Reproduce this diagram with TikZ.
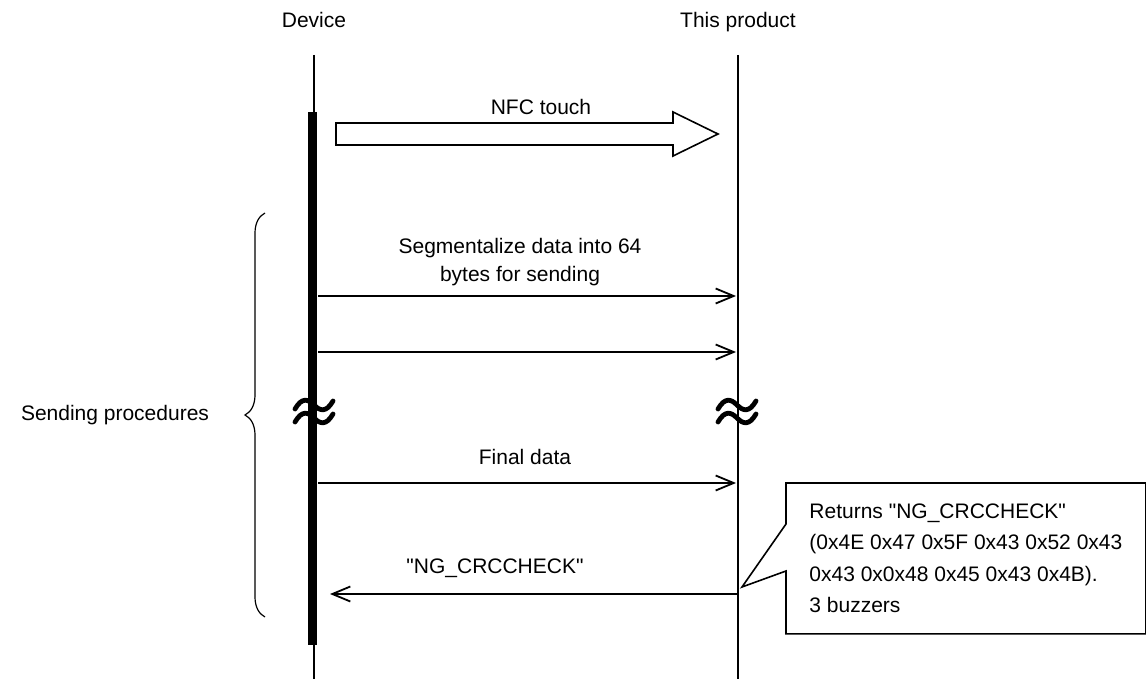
\documentclass[tikz,border=0pt]{standalone}
\usepackage{fontspec}
\setmainfont{Liberation Sans}[Ligatures=TeXOff]
\usetikzlibrary{arrows.meta,positioning,calc,decorations.pathreplacing}

\begin{document}
\begin{tikzpicture}[
  x=0.5pt, y=-0.5pt,
  txt/.style={font=\fontsize{10.5}{14}\selectfont, inner sep=0pt, align=center},
  life/.style={line width=1.3pt},
  actbar/.style={line width=4.5pt},
  msg/.style={-{Straight Barb[length=9pt,width=7.5pt]}, line width=0.9pt},
  brk/.style={line width=2.4pt, line cap=round},
  outl/.style={line width=0.8pt, line join=miter},
  notebox/.style={txt, align=left, font=\fontsize{10.5}{15.75}\selectfont,
                  minimum width=179.5pt, minimum height=75pt}
]
\useasboundingbox (0,0) rectangle (1146,679);

% headers and lifelines
\node[txt, anchor=base] (dev) at (314,28) {Device};
\node[txt, anchor=base] (prod) at (738,28) {This product};
\coordinate (devtop) at (314,55);  \coordinate (devbot) at (314,679);
\coordinate (prodtop) at (738,55); \coordinate (prodbot) at (738,679);
\draw[life] (devtop) -- (devbot);
\draw[life] (prodtop) -- (prodbot);
\coordinate (acttop) at (312.5,112); \coordinate (actbot) at (312.5,645);
\draw[actbar] (acttop) -- (actbot);

% NFC touch
\node[txt] (nfc) at (541,107) {NFC touch};
\draw[outl] (336,123) -- (673,123) -- (673,112) -- (718,134) -- (673,156)
  -- (673,145) -- (336,145) -- cycle;

% messages
\coordinate (d1) at (318,296); \coordinate (p1) at (736,296);
\coordinate (d2) at (318,352); \coordinate (p2) at (736,352);
\coordinate (d3) at (318,483); \coordinate (p3) at (736,483);
\coordinate (d4) at (330,594); \coordinate (p4) at (738,594);
\node[txt] (seg) at (520,262) {Segmentalize data into 64\\bytes for sending};
\node[txt] (fin) at (525,457) {Final data};
\node[txt] (ngmsg) at (495,568) {"NG\_CRCCHECK"};
\draw[msg] (d1) -- (p1);
\draw[msg] (d2) -- (p2);
\draw[msg] (d3) -- (p3);
\draw[msg] (p4) -- (d4);

% break marks
\foreach \x in {314,737}
  \foreach \y in {405,418}
    \draw[brk] ({\x-19},{\y+4}) .. controls ({\x-12},{\y-8}) and ({\x-6},{\y-6}) .. (\x,\y)
      .. controls ({\x+6},{\y+6}) and ({\x+12},{\y+8}) .. ({\x+19},{\y-4});

% sending procedures brace
\coordinate (brbot) at (265,617); \coordinate (brtop) at (265,213);
\draw[line width=0.6pt, decorate, decoration={brace, amplitude=10pt}] (brbot) -- (brtop);
\node[txt] (send) at (115,415) {Sending procedures};

% callout
\node[notebox, anchor=north west] (note) at (786,483)
  {Returns "NG\_CRCCHECK"\\(0x4E 0x47 0x5F 0x43 0x52 0x43\\0x43 0x0x48 0x45 0x43 0x4B).\\3 buzzers};
\coordinate (tip) at (742,587);
\draw[outl] (note.north west) -- (note.north east) -- (note.south east) -- (note.south west)
  -- ($(note.north west)+(0,88)$) -- (tip) -- ($(note.north west)+(0,41)$) -- cycle;
\end{tikzpicture}
\end{document}
